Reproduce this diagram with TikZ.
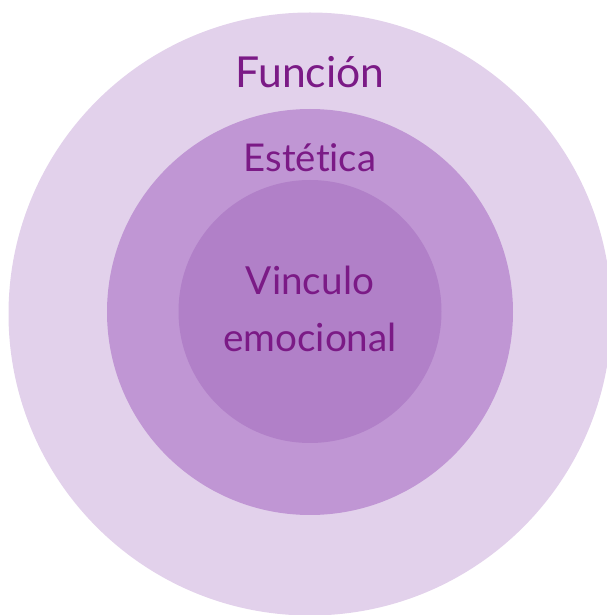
\documentclass[tikz,border=0pt]{standalone}
\usepackage{fontspec}
\setmainfont{Lato}[Ligatures=NoCommon]

\definecolor{ringout}{HTML}{E2D1EB}
\definecolor{ringmid}{HTML}{C096D4}
\definecolor{ringin}{HTML}{B180C8}
\definecolor{labelpurple}{HTML}{7B1A86}

\begin{document}
\begin{tikzpicture}[x=0.75pt,y=0.75pt]
    % Page frame
    \useasboundingbox (0,0) rectangle (607,615);
    \clip (0,0) rectangle (607,615);

    % Outer ring
    \fill[ringout] (310,301) circle (301.5);

    % Middle ring
    \fill[ringmid] (310,303) circle (203);

    % Inner ring
    \fill[ringin] (310,303.5) circle (131.5);

    % Labels
    \node[anchor=base, text=labelpurple, font=\fontsize{32}{38}\selectfont] (funcion) at (310,527) {Función};
    \node[anchor=base, text=labelpurple, font=\fontsize{28.7}{34}\selectfont] (estetica) at (310,443) {Estética};
    \node[anchor=base, text=labelpurple, font=\fontsize{29}{34}\selectfont] (vinculo) at (310,320) {Vinculo};
    \node[anchor=base, text=labelpurple, font=\fontsize{29}{34}\selectfont] (emocional) at (310,263) {emocional};
\end{tikzpicture}
\end{document}
